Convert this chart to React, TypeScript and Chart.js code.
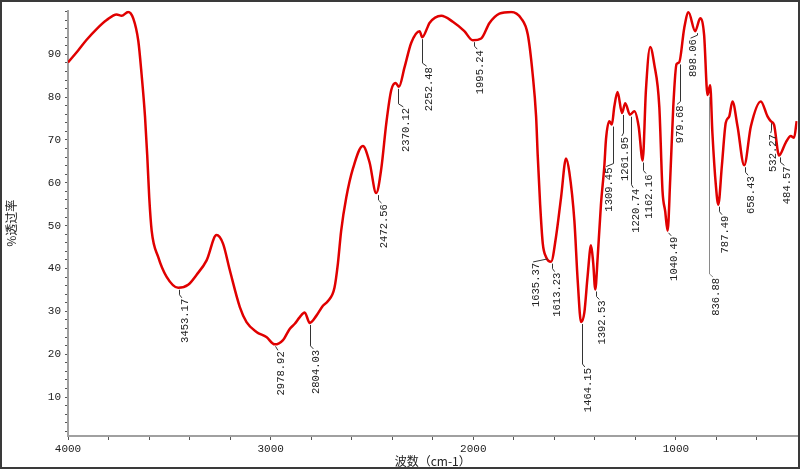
import React, { useEffect, useRef } from "react";
import { Chart, registerables } from "chart.js";

Chart.register(...registerables);

// Spectrum (wavenumber cm-1, %transmittance)
const wavenumbers = [
  4000, 3950, 3908, 3859, 3809, 3760, 3735, 3703, 3678, 3653, 3637, 3620, 3609, 3599, 3587, 3555, 3514, 3456, 3407, 3366,
  3316, 3267, 3235, 3202, 3152, 3119, 3070, 3021, 2980, 2939, 2906, 2881, 2857, 2832, 2807, 2774, 2742, 2717, 2685, 2668,
  2652, 2627, 2594, 2545, 2512, 2479, 2454, 2429, 2405, 2383, 2367, 2339, 2306, 2265, 2252, 2224, 2216, 2158, 2101, 2044,
  2003, 1961, 1920, 1871, 1813, 1764, 1731, 1707, 1690, 1682, 1670, 1657, 1641, 1616, 1592, 1567, 1542, 1526, 1501, 1485,
  1468, 1452, 1436, 1419, 1408, 1398, 1386, 1370, 1353, 1345, 1329, 1316, 1304, 1288, 1266, 1250, 1227, 1205, 1184, 1164,
  1148, 1127, 1107, 1082, 1066, 1053, 1041, 1028, 1013, 997, 984, 959, 938, 905, 880, 861, 844, 831, 820, 803,
  791, 773, 754, 737, 721, 696, 663, 630, 581, 548, 532, 516, 491, 458, 433, 417, 404,
];
const transmittance = [
  88.1, 90.9, 93.4, 95.9, 98.0, 99.3, 99.0, 99.9, 98.4, 93.1, 85.4, 75.5, 66.4, 56.5, 48.8, 42.7, 38.1, 35.5, 36.2, 38.5,
  41.9, 47.8, 45.8, 39.7, 31.0, 27.5, 25.2, 24.0, 22.3, 23.3, 25.9, 27.1, 28.6, 29.7, 27.3, 29.0, 31.3, 32.4, 35.5, 41.2,
  48.8, 56.5, 63.3, 68.6, 64.8, 57.6, 63.3, 74.0, 81.6, 83.3, 82.4, 87.0, 92.7, 95.4, 94.0, 96.5, 97.3, 99.0, 97.6, 95.4,
  93.3, 93.7, 97.3, 99.5, 99.9, 98.4, 94.6, 85.4, 75.5, 66.4, 54.9, 45.8, 42.7, 41.6, 47.3, 56.5, 65.7, 62.5, 51.1, 37.4,
  27.5, 29.7, 38.1, 45.4, 41.2, 35.1, 42.7, 54.9, 64.1, 70.2, 74.4, 73.6, 77.8, 81.2, 76.3, 78.6, 75.9, 76.7, 73.2, 65.2,
  81.6, 91.7, 87.7, 77.8, 58.0, 53.4, 48.8, 61.0, 77.8, 87.7, 88.1, 96.1, 99.8, 95.4, 98.4, 94.6, 80.5, 82.8, 71.7, 59.5,
  54.9, 64.1, 74.0, 75.5, 79.0, 73.2, 64.1, 73.2, 79.0, 75.5, 74.4, 73.6, 66.4, 69.4, 70.9, 70.5, 74.4,
];

// Peak annotations
const peakLabels = [
  "3453.17", "2978.92", "2804.03", "2472.56", "2370.12", "2252.48", "1995.24", "1635.37", "1613.23", "1464.15", "1392.53",
  "1309.45", "1261.95", "1220.74", "1162.16", "1040.49", "979.68", "898.06", "836.88", "787.49", "658.43", "532.27", "484.57",
];
const peakT = [
  35.5, 22.3, 27.3, 57.6, 82.4, 94.0, 93.3, 42.7, 41.6, 27.5, 35.1,
  73.6, 76.3, 75.9, 65.2, 48.8, 88.1, 95.4, 80.5, 54.9, 64.1, 74.4, 66.4,
];
// label layout (leader length and text offset, px)
const leaderLen = [10, 6, 26, 10, 20, 29, 9, 5, 10, 45, 10, 42, 23, 73, 13, 5, 42, 7, 182, 10, 10, 12, 10];
const labelDx = [6, 6, 6, 7, 8, 7.5, 6, -11, 6, 6, 6, -4, 2, 5, 6, 6.5, 0, -3, 7, 6, 6, 3, 7];

// Axis ticks
const xTickValues = [4000, 3800, 3600, 3400, 3200, 3000, 2800, 2600, 2400, 2200, 2000, 1800, 1600, 1400, 1200, 1000, 800, 600];
const xLabelValues = [4000, 3000, 2000, 1000];
const yTickValues = [2, 4, 6, 8, 10, 12, 14, 16, 18, 20, 22, 24, 26, 28, 30, 32, 34, 36, 38, 40, 42, 44, 46, 48, 50, 52, 54, 56, 58, 60, 62, 64, 66, 68, 70, 72, 74, 76, 78, 80, 82, 84, 86, 88, 90, 92, 94, 96, 98, 100];
const yLabelValues = [10, 20, 30, 40, 50, 60, 70, 80, 90];

const xTitle = "波数（cm-1）";
const yTitle = "%透过率";

const MONO = "'Liberation Mono', 'DejaVu Sans Mono', monospace";
const CJK = "'Noto Sans CJK SC', 'Noto Sans', sans-serif";

export default function App() {
  const ref = useRef<HTMLCanvasElement | null>(null);

  useEffect(() => {
    if (!ref.current) return;

    const annotate = {
      id: "annotate",
      afterDatasetsDraw(chart: any) {
        const { ctx, scales } = chart;
        const xs = scales.x;
        const ys = scales.y;
        ctx.save();
        ctx.font = `10.5px ${MONO}`;
        for (let i = 0; i < peakLabels.length; i++) {
          const wn = parseFloat(peakLabels[i]);
          const px = xs.getPixelForValue(wn);
          const py = ys.getPixelForValue(peakT[i]);
          const ty = py + leaderLen[i];
          const tx = px + labelDx[i];
          ctx.strokeStyle = i === 18 ? "#8a8a8a" : "#333333";
          ctx.lineWidth = 1;
          ctx.beginPath();
          ctx.moveTo(Math.round(px) + 0.5, py + 2);
          if (leaderLen[i] > 6) ctx.lineTo(Math.round(px) + 0.5, ty - 3);
          ctx.lineTo(tx - 3, ty);
          ctx.stroke();
          ctx.fillStyle = "#222222";
          ctx.save();
          ctx.translate(tx, ty + 1);
          ctx.rotate(-Math.PI / 2);
          ctx.textAlign = "right";
          ctx.textBaseline = "middle";
          ctx.fillText(peakLabels[i], 0, 0);
          ctx.restore();
        }
        ctx.restore();
      },
      afterDraw(chart: any) {
        const { ctx, chartArea } = chart;
        ctx.save();
        // titles
        ctx.fillStyle = "#222222";
        ctx.font = `12px ${CJK}`;
        ctx.textAlign = "center";
        ctx.textBaseline = "middle";
        ctx.fillText(xTitle, (chartArea.left + chartArea.right) / 2, 461);
        ctx.save();
        ctx.translate(11, (chartArea.top + chartArea.bottom) / 2);
        ctx.rotate(-Math.PI / 2);
        ctx.fillText(yTitle, 0, 0);
        ctx.restore();
        // outer frame
        ctx.strokeStyle = "#3a3a3a";
        ctx.lineWidth = 2;
        ctx.strokeRect(1, 1, 798, 467);
        ctx.restore();
      },
    };

    const chart = new Chart(ref.current, {
      type: "line",
      data: {
        datasets: [
          {
            data: wavenumbers.map((w, i) => ({ x: w, y: transmittance[i] })),
            borderColor: "#e00000",
            borderWidth: 2.5,
            pointRadius: 0,
            fill: false,
            cubicInterpolationMode: "monotone",
          },
        ],
      },
      options: {
        animation: false,
        responsive: false,
        devicePixelRatio: 1,
        layout: { padding: { top: 2, right: 2.5, left: 0, bottom: 0 } },
        plugins: { legend: { display: false }, tooltip: { enabled: false } },
        scales: {
          x: {
            type: "linear",
            reverse: true,
            min: 400,
            max: 4000,
            afterBuildTicks: (s: any) => {
              s.ticks = xTickValues.map((v) => ({ value: v }));
            },
            afterFit: (s: any) => {
              s.height = 35;
            },
            ticks: {
              autoSkip: false,
              maxRotation: 0,
              padding: 2,
              color: "#222222",
              font: { family: MONO, size: 11 },
              callback: (v: any) => (xLabelValues.includes(Number(v)) ? String(v) : ""),
            },
            grid: { drawOnChartArea: false, drawTicks: true, tickLength: 4, tickColor: "#555555" },
            border: { color: "#a0a0a0", width: 2 },
          },
          y: {
            type: "linear",
            min: 0.9,
            max: 100.2,
            afterBuildTicks: (s: any) => {
              s.ticks = yTickValues.map((v) => ({ value: v }));
            },
            afterFit: (s: any) => {
              s.width = 68;
            },
            ticks: {
              autoSkip: false,
              padding: 4,
              color: "#222222",
              font: { family: MONO, size: 11 },
              callback: (v: any) => (yLabelValues.includes(Number(v)) ? String(v) : ""),
            },
            grid: { drawOnChartArea: false, drawTicks: true, tickLength: 3, tickColor: "#555555" },
            border: { color: "#a0a0a0", width: 2 },
          },
        },
      },
      plugins: [annotate],
    } as any);

    return () => chart.destroy();
  }, []);

  return (
    <div style={{ position: "fixed", left: 0, top: 0, width: 800, height: 471, background: "#fff" }}>
      <canvas ref={ref} width={800} height={471} style={{ width: 800, height: 471, display: "block" }} />
    </div>
  );
}
